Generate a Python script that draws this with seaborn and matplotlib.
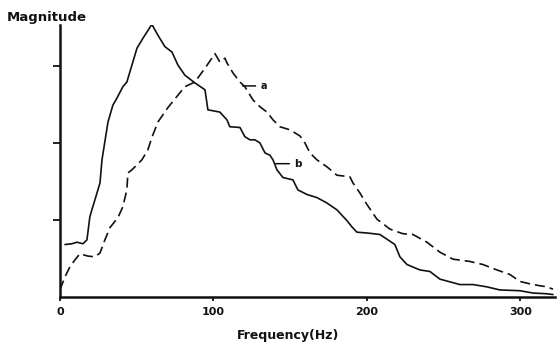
import pandas as pd
import matplotlib
matplotlib.use("Agg")
import matplotlib.pyplot as plt
import seaborn as sns

# ---------------------------------------------------------------------------
# data (frequency in Hz, magnitude in tick units)
# ---------------------------------------------------------------------------
freq_a = [0, 3.3, 6.5, 9.8, 13.0, 18.2, 22.8, 26.1, 29.3, 32.6, 37.8, 41.0,
          43.6, 44.3, 46.9, 53.4, 57.3, 59.9, 63.8, 70.4, 76.9, 81.4, 87.9,
          94.5, 101.0, 104.2, 107.5, 108.8, 112.7, 117.3, 120.5, 125.7, 130.3,
          134.9, 138.8, 143.3, 149.8, 156.4, 159.6, 162.9, 167.4, 173.9, 180.5,
          188.9, 190.9, 195.4, 200.0, 206.5, 215.0, 223.5, 230.0, 239.1, 247.6,
          256.0, 267.1, 275.6, 284.7, 293.2, 299.7, 308.1, 317.3, 321.2]
mag_a = [0.09, 0.26, 0.39, 0.48, 0.56, 0.53, 0.52, 0.57, 0.74, 0.90, 1.03, 1.17,
         1.39, 1.61, 1.65, 1.78, 1.91, 2.07, 2.27, 2.46, 2.62, 2.73, 2.79,
         2.97, 3.16, 3.05, 3.10, 3.04, 2.91, 2.79, 2.73, 2.56, 2.47,
         2.40, 2.30, 2.21, 2.17, 2.09, 2.00, 1.87, 1.78, 1.69, 1.58,
         1.56, 1.48, 1.35, 1.20, 1.01, 0.88, 0.82, 0.81, 0.71, 0.58,
         0.49, 0.46, 0.42, 0.35, 0.29, 0.20, 0.16, 0.13, 0.10]

freq_b = [3.3, 7.8, 11.1, 15.0, 17.6, 19.5, 20.8, 22.8, 26.1, 27.4, 31.3, 34.5,
          37.1, 41.0, 43.6, 46.9, 50.2, 54.1, 59.9, 63.8, 68.4, 73.0, 76.9,
          81.4, 87.9, 94.5, 96.4, 104.2, 108.8, 110.7, 117.3, 120.5, 123.8,
          127.0, 130.3, 133.6, 136.8, 138.8, 141.4, 145.3, 151.8, 155.0, 160.9,
          167.4, 173.9, 180.5, 187.0, 190.2, 193.5, 200.0, 208.5, 213.0, 218.2,
          221.5, 226.1, 234.5, 241.0, 247.6, 260.6, 269.1, 278.2, 286.6, 299.7,
          308.1, 317.3, 321.2]
mag_b = [0.68, 0.69, 0.71, 0.69, 0.74, 1.04, 1.13, 1.26, 1.48, 1.78, 2.27, 2.49,
         2.58, 2.73, 2.79, 3.01, 3.23, 3.36, 3.54, 3.40, 3.25, 3.18, 3.01,
         2.88, 2.78, 2.69, 2.43, 2.40, 2.30, 2.21, 2.20, 2.08, 2.04,
         2.04, 2.00, 1.87, 1.84, 1.78, 1.65, 1.55, 1.52, 1.39, 1.33,
         1.29, 1.22, 1.13, 0.99, 0.91, 0.84, 0.83, 0.81, 0.75, 0.68,
         0.52, 0.42, 0.35, 0.33, 0.23, 0.16, 0.16, 0.13, 0.09, 0.08,
         0.05, 0.04, 0.03]

x_ticks = [0, 100, 200, 300]
y_ticks = [1, 2, 3]

df = pd.concat([
    pd.DataFrame({"freq": freq_a, "mag": mag_a, "curve": "a"}),
    pd.DataFrame({"freq": freq_b, "mag": mag_b, "curve": "b"}),
])

# ---------------------------------------------------------------------------
# plot
# ---------------------------------------------------------------------------
sns.set_style("white")
plt.rcParams["font.family"] = ["DejaVu Sans"]
ink = "#111111"

fig = plt.figure(figsize=(5.6, 3.44), dpi=100)
ax = fig.add_axes([0.107, 0.137, 0.884, 0.79])

sns.lineplot(data=df, x="freq", y="mag", style="curve", color=ink,
             dashes={"a": (6, 3), "b": ""}, linewidth=1.2, sort=False,
             legend=False, ax=ax)

ax.set_xlim(0, 322.5)
ax.set_ylim(0, 3.53)
ax.set_xticks(x_ticks)
ax.set_xticklabels([str(t) for t in x_ticks], fontweight="bold", fontsize=8)
ax.set_yticks(y_ticks)
ax.set_yticklabels([])
ax.set(xlabel="", ylabel="")
ax.tick_params(axis="x", direction="out", length=3, width=1.3, pad=4,
               colors=ink, bottom=True)
ax.tick_params(axis="y", direction="out", length=5, width=1.3,
               colors=ink, left=True)
sns.despine(ax=ax)
for side in ["left", "bottom"]:
    ax.spines[side].set_linewidth(1.8)
    ax.spines[side].set_color(ink)

# curve labels with short leader lines
ax.annotate("a", xy=(119, 2.74), xytext=(130.5, 2.74), fontsize=7,
            fontweight="bold", va="center", color=ink,
            arrowprops=dict(arrowstyle="-", color=ink, lw=1.1,
                            shrinkA=1, shrinkB=0))
ax.annotate("b", xy=(140.5, 1.73), xytext=(152.5, 1.73), fontsize=7.5,
            fontweight="bold", va="center", color=ink,
            arrowprops=dict(arrowstyle="-", color=ink, lw=1.1,
                            shrinkA=1, shrinkB=0))

fig.text(46.5 / 560, 1 - 18 / 344, "Magnitude", fontsize=9.5,
         fontweight="bold", ha="center", va="center", color=ink)
fig.text(288 / 560, 8 / 344, "Frequency(Hz)", fontsize=9,
         fontweight="bold", ha="center", va="center", color=ink)

plt.savefig("out.png", dpi=100)
